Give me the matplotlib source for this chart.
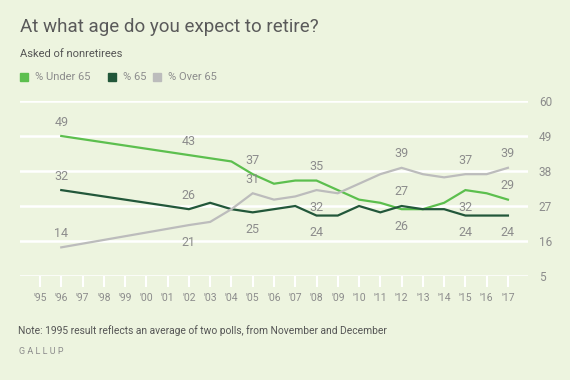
import numpy as np
import matplotlib.pyplot as plt

plt.rcParams['font.family'] = ['Roboto', 'DejaVu Sans']

years = [1996, 2002, 2003, 2004, 2005, 2006, 2007, 2008, 2009, 2010,
         2011, 2012, 2013, 2014, 2015, 2016, 2017]
under65 = [49, 43, 42, 41, 37, 34, 35, 35, 32, 29, 28, 26, 26, 28, 32, 31, 29]
at65 = [32, 26, 28, 26, 25, 26, 27, 24, 24, 27, 25, 27, 26, 26, 24, 24, 24]
over65 = [14, 21, 22, 26, 31, 29, 30, 32, 31, 34, 37, 39, 37, 36, 37, 37, 39]

series_names = ['% Under 65', '% 65', '% Over 65']
tick_years = list(range(1995, 2018))
tick_labels = ["'%02d" % (y % 100) for y in tick_years]
y_ticks = [5, 16, 27, 38, 49, 60]

# which points get a value label, and whether it sits above (1) or below (-1)
label_years = [1996, 2002, 2005, 2008, 2012, 2015, 2017]
under_side = [1, 1, 1, 1, -1, -1, 1]
at65_side = [1, 1, -1, -1, 1, -1, -1]
over_side = [1, -1, 1, -1, 1, 1, 1]

bg = '#edf4df'
colors = ['#5cbf4e', '#22573a', '#bcbcbc']
txt = '#8c8c8c'

fig = plt.figure(figsize=(5.7, 3.8), dpi=100, facecolor=bg)
ax = fig.add_axes([0.0351, 0.2737, 0.8907, 0.4605], facecolor=bg)

for vals, c, sides in zip([under65, at65, over65], colors,
                          [under_side, at65_side, over_side]):
    ax.plot(years, vals, color=c, lw=1.6, solid_joinstyle='miter', zorder=3)
    for yr, s in zip(label_years, sides):
        v = vals[years.index(yr)]
        ax.annotate(str(v), (yr, v), xytext=(0, 14 if s > 0 else -17),
                    textcoords='offset pixels', ha='center', va='center',
                    fontsize=9, color=txt, zorder=4)

ax.set_xlim(1994.06, 2017.93)
ax.set_ylim(5, 60)
ax.set_yticks(y_ticks)
ax.yaxis.tick_right()
ax.grid(axis='y', color='white', lw=1.8, zorder=1)
ax.set_xticks(tick_years)
ax.set_xticklabels(tick_labels)
ax.tick_params(axis='x', length=8, width=1.5, color='white', labelsize=7.5,
               labelcolor=txt, pad=4)
ax.tick_params(axis='y', length=0, labelsize=8.5, labelcolor=txt, pad=8)
for sp in ax.spines.values():
    sp.set_visible(False)

fig.text(20 / 570, 1 - 27 / 380, 'At what age do you expect to retire?',
         fontsize=13.5, color='#5a5a5a', va='center')
fig.text(20 / 570, 1 - 54 / 380, 'Asked of nonretirees',
         fontsize=8, color='#555555', va='center')

# legend row
leg_x = [20, 108, 153]
for lx, name, c in zip(leg_x, series_names, colors):
    fig.patches.append(plt.Rectangle((lx / 570, 1 - 81 / 380), 8 / 570, 8 / 380,
                                     transform=fig.transFigure, color=c))
    fig.text((lx + 15) / 570, 1 - 77 / 380, name, fontsize=8,
             color='#8c8c8c', va='center')

fig.text(18 / 570, 1 - 331 / 380,
         'Note: 1995 result reflects an average of two polls, from November and December',
         fontsize=7.4, color='#555555', va='center')
fig.text(19 / 570, 1 - 352 / 380, 'G A L L U P', fontsize=6.5, color='#8c8c8c',
         va='center')

fig.savefig('out.png', dpi=100, facecolor=bg)
